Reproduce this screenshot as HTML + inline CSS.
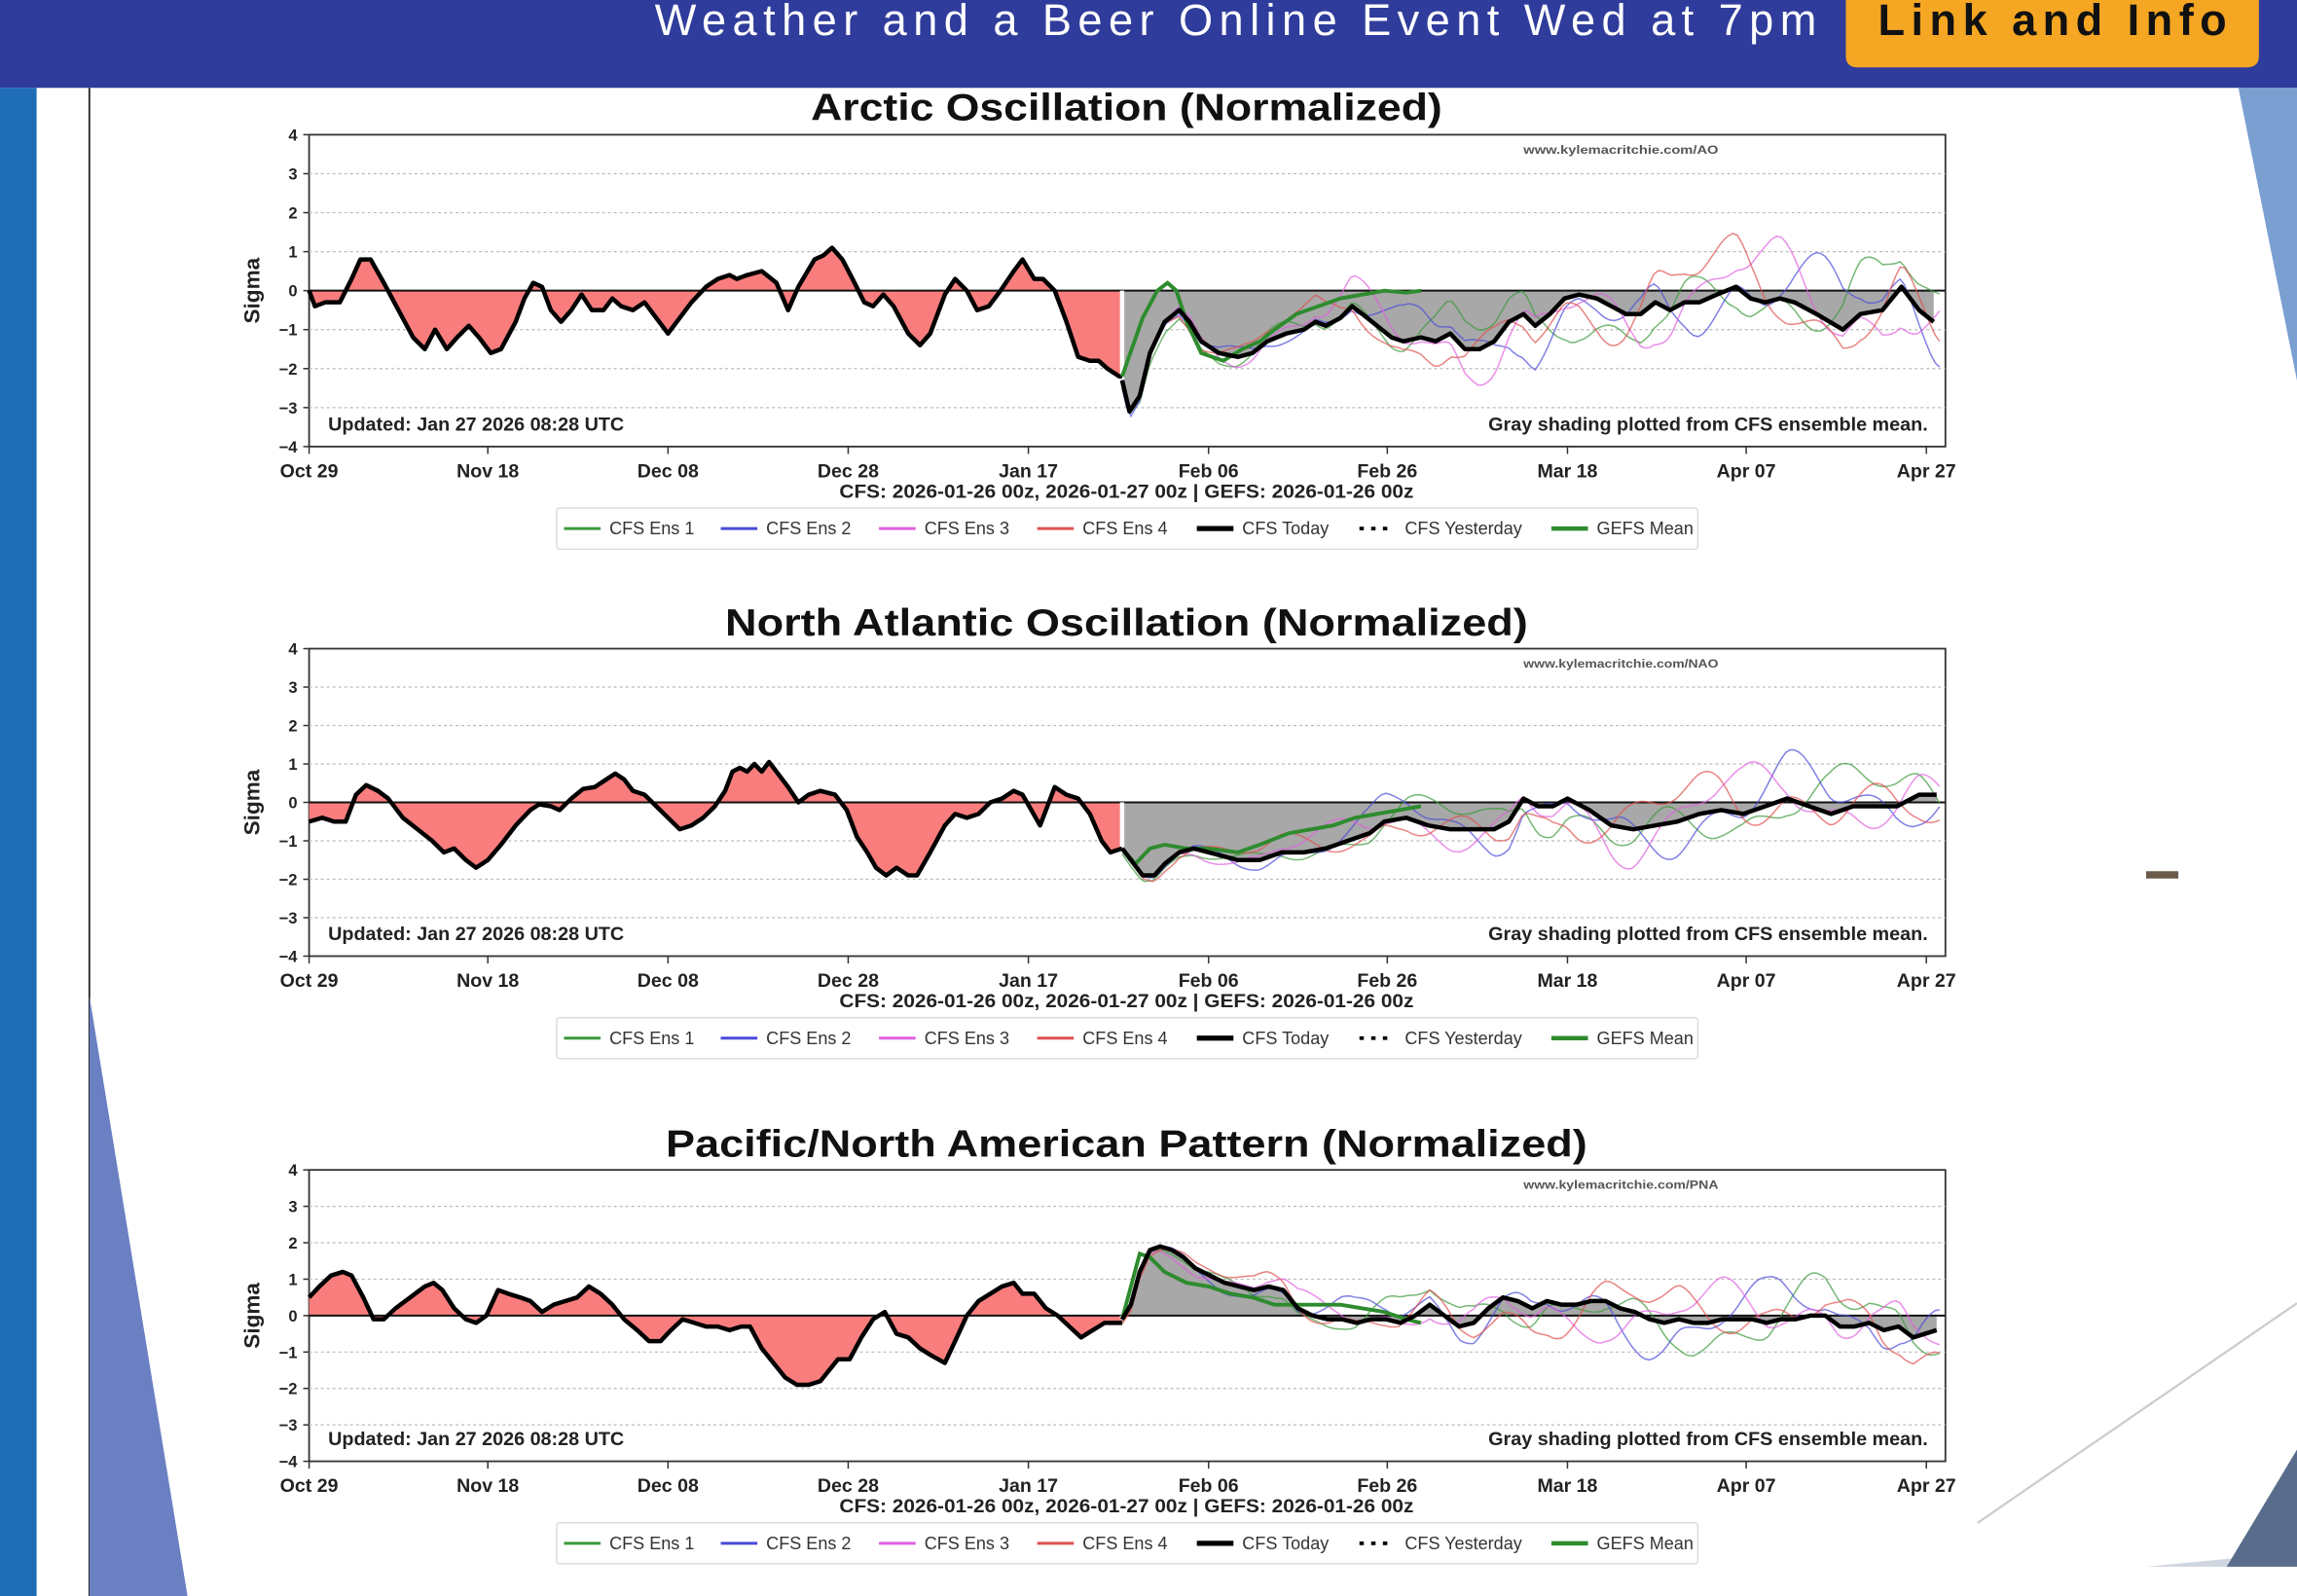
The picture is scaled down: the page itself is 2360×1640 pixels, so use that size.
<!DOCTYPE html>
<html><head><meta charset="utf-8"><style>
html,body{margin:0;padding:0;background:#fff;overflow:hidden}
svg{display:block}
text{font-family:"Liberation Sans","DejaVu Sans",sans-serif}
</style></head><body>
<svg id="s" width="2360" height="1640" viewBox="0 0 1568 1090" preserveAspectRatio="none" xmlns="http://www.w3.org/2000/svg">
<rect width="1568" height="1090" fill="#fff"/>
<rect x="0" y="0" width="1568" height="60" fill="#2f3c9b"/>
<text x="447" y="24" font-size="30" fill="#fff" textLength="793" lengthAdjust="spacing">Weather and a Beer Online Event Wed at 7pm</text>
<path d="M1260 0H1542V38Q1542 46 1534 46H1268Q1260 46 1260 38Z" fill="#f5a623"/>
<text x="1282" y="24" font-size="30" font-weight="bold" fill="#111" textLength="238" lengthAdjust="spacing">Link and Info</text>
<rect x="0" y="60" width="25" height="1030" fill="#1f6db6"/>
<line x1="61" y1="60" x2="61" y2="1090" stroke="#222" stroke-width="1.2"/>
<path d="M61 680L128 1090H61Z" fill="#6a80c2"/>
<path d="M1528 60H1568V260Z" fill="#7a9fd0"/>
<path d="M1350 1040L1568 890" stroke="#ccc" stroke-width="1.5"/>
<path d="M1465 1070H1568V1060Z" fill="#cfd6e0"/>
<path d="M1520 1070L1568 990V1070Z" fill="#5a6c8c"/>
<rect x="1465" y="595" width="22" height="5" fill="#6a5a4a"/>
<g id="charts"></g>
</svg>
<script>
const NS="http://www.w3.org/2000/svg";
const G=document.getElementById('charts');
function el(t,a,txt){const e=document.createElementNS(NS,t);for(const k in a)e.setAttribute(k,a[k]);if(txt!==undefined)e.textContent=txt;G.appendChild(e);return e;}
function P(s){const a=s.split(',').map(p=>p.trim().split(':').map(Number));return a;}
function interp(pts,x){if(x<=pts[0][0])return pts[0][1];for(let i=1;i<pts.length;i++){if(x<=pts[i][0]){const [x0,y0]=pts[i-1],[x1,y1]=pts[i];return y0+(y1-y0)*(x-x0)/(x1-x0);}}return pts[pts.length-1][1];}
const charts=[
{title:"Arctic Oscillation (Normalized)",tw:431,top:92,bot:305,ty:73,wm:"www.kylemacritchie.com/AO",
obs:P("211:0,215:-0.4,222:-0.3,232:-0.3,240:0.3,246:0.8,253:0.8,262:0.2,272:-0.5,282:-1.2,290:-1.5,297:-1.0,305:-1.5,312:-1.2,320:-0.9,327:-1.2,335:-1.6,342:-1.5,352:-0.8,358:-0.2,364:0.2,370:0.1,376:-0.5,383:-0.8,390:-0.5,397:-0.1,404:-0.5,412:-0.5,418:-0.2,424:-0.4,432:-0.5,440:-0.3,450:-0.8,456:-1.1,464:-0.7,472:-0.3,482:0.1,490:0.3,498:0.4,503:0.3,510:0.4,520:0.5,530:0.2,538:-0.5,545:0.1,556:0.8,562:0.9,568:1.1,575:0.8,582:0.3,590:-0.3,596:-0.4,603:-0.1,610:-0.4,620:-1.1,628:-1.4,635:-1.1,645:-0.1,652:0.3,660:0.0,667:-0.5,675:-0.4,683:0.0,692:0.5,698:0.8,706:0.3,712:0.3,720:0.0,728:-0.8,736:-1.7,744:-1.8,750:-1.8,756:-2.0,764:-2.2,766:-2.2"),
today:P("766:-2.3,771:-3.1,778:-2.7,785:-1.6,795:-0.8,805:-0.5,812:-0.8,820:-1.3,832:-1.6,845:-1.7,855:-1.6,865:-1.3,878:-1.1,890:-1.0,898:-0.8,905:-0.9,915:-0.7,923:-0.4,930:-0.6,940:-0.9,950:-1.2,958:-1.3,970:-1.2,980:-1.3,990:-1.1,1000:-1.5,1010:-1.5,1020:-1.3,1030:-0.8,1040:-0.6,1048:-0.9,1058:-0.6,1068:-0.2,1078:-0.1,1090:-0.2,1100:-0.4,1110:-0.6,1120:-0.6,1130:-0.3,1140:-0.5,1150:-0.3,1160:-0.3,1172:-0.1,1185:0.1,1195:-0.2,1205:-0.3,1215:-0.2,1225:-0.3,1240:-0.6,1258:-1.0,1270:-0.6,1285:-0.5,1298:0.1,1310:-0.5,1320:-0.8"),
gefs:P("766:-2.2,780:-0.7,790:0.0,797:0.2,803:0.0,810:-0.8,820:-1.6,835:-1.8,848:-1.5,860:-1.3,870:-1.0,885:-0.6,900:-0.4,915:-0.2,930:-0.1,945:0.0,960:-0.05,970:0.0"),
amp:1.1},
{title:"North Atlantic Oscillation (Normalized)",tw:548,top:443,bot:653,ty:425,wm:"www.kylemacritchie.com/NAO",
obs:P("211:-0.5,220:-0.4,228:-0.5,236:-0.5,243:0.2,250:0.45,258:0.3,265:0.1,275:-0.4,285:-0.7,295:-1.0,303:-1.3,310:-1.2,318:-1.5,325:-1.7,333:-1.5,342:-1.1,352:-0.6,362:-0.2,368:-0.05,376:-0.1,382:-0.2,390:0.1,398:0.35,406:0.4,414:0.6,420:0.75,426:0.6,432:0.3,440:0.2,448:-0.1,456:-0.4,464:-0.7,472:-0.6,480:-0.4,488:-0.1,495:0.3,500:0.8,505:0.9,510:0.8,515:1.0,520:0.8,525:1.05,532:0.7,538:0.4,545:0.0,552:0.2,560:0.3,570:0.2,578:-0.2,585:-0.9,592:-1.3,598:-1.7,605:-1.9,612:-1.7,620:-1.9,626:-1.9,635:-1.3,645:-0.6,652:-0.3,660:-0.4,668:-0.3,676:0.0,684:0.1,692:0.3,698:0.2,704:-0.2,710:-0.6,716:0.0,720:0.4,728:0.2,736:0.1,744:-0.3,752:-1.0,758:-1.3,766:-1.2"),
today:P("766:-1.2,772:-1.5,780:-1.9,788:-1.9,795:-1.6,805:-1.3,815:-1.2,825:-1.3,835:-1.4,845:-1.5,860:-1.5,875:-1.3,890:-1.3,905:-1.2,920:-1.0,935:-0.8,945:-0.5,960:-0.4,975:-0.6,990:-0.7,1005:-0.7,1020:-0.7,1030:-0.5,1040:0.1,1050:-0.1,1060:-0.1,1070:0.1,1085:-0.2,1100:-0.6,1115:-0.7,1130:-0.6,1145:-0.5,1160:-0.3,1175:-0.2,1190:-0.3,1205:-0.1,1220:0.1,1235:-0.1,1250:-0.3,1265:-0.1,1280:-0.1,1295:-0.1,1310:0.2,1322:0.2"),
gefs:P("766:-1.2,775:-1.6,785:-1.2,795:-1.1,810:-1.2,825:-1.2,845:-1.3,860:-1.1,880:-0.8,895:-0.7,910:-0.6,925:-0.4,940:-0.3,955:-0.2,970:-0.1"),
amp:0.9},
{title:"Pacific/North American Pattern (Normalized)",tw:629,top:799,bot:998,ty:781,wm:"www.kylemacritchie.com/PNA",
obs:P("211:0.5,218:0.8,226:1.1,234:1.2,240:1.1,248:0.5,255:-0.1,262:-0.1,270:0.2,280:0.5,290:0.8,296:0.9,302:0.7,310:0.2,318:-0.1,325:-0.2,332:0.0,340:0.7,347:0.6,355:0.5,362:0.4,370:0.1,378:0.3,386:0.4,394:0.5,402:0.8,410:0.6,418:0.3,426:-0.1,435:-0.4,443:-0.7,451:-0.7,458:-0.4,466:-0.1,474:-0.2,482:-0.3,490:-0.3,498:-0.4,506:-0.3,512:-0.3,520:-0.9,528:-1.3,536:-1.7,544:-1.9,552:-1.9,560:-1.8,566:-1.5,572:-1.2,580:-1.2,588:-0.6,596:-0.1,604:0.1,612:-0.5,620:-0.6,628:-0.9,636:-1.1,645:-1.3,652:-0.7,660:0.0,668:0.4,676:0.6,684:0.8,692:0.9,698:0.6,706:0.6,714:0.2,722:0.0,730:-0.3,738:-0.6,746:-0.4,754:-0.2,760:-0.2,766:-0.2"),
today:P("766:-0.1,772:0.3,778:1.2,785:1.8,792:1.9,800:1.8,808:1.6,816:1.3,826:1.1,836:0.9,846:0.8,856:0.7,866:0.8,876:0.7,886:0.2,896:0.0,906:-0.1,916:-0.1,926:-0.2,936:-0.1,946:-0.1,956:-0.2,966:0.0,976:0.3,986:0.0,996:-0.3,1006:-0.2,1016:0.2,1026:0.5,1036:0.4,1046:0.2,1056:0.4,1066:0.3,1076:0.3,1086:0.4,1096:0.4,1106:0.2,1116:0.1,1126:-0.1,1136:-0.2,1146:-0.1,1156:-0.2,1166:-0.2,1176:-0.1,1186:-0.1,1196:-0.1,1206:-0.2,1216:-0.1,1226:-0.1,1236:0.0,1246:0.0,1256:-0.3,1266:-0.3,1276:-0.2,1286:-0.4,1296:-0.3,1306:-0.6,1314:-0.5,1322:-0.4"),
gefs:P("766:-0.1,772:0.8,778:1.7,785:1.6,795:1.2,810:0.9,825:0.8,840:0.6,855:0.5,870:0.3,885:0.3,900:0.3,915:0.3,930:0.2,945:0.1,960:-0.1,970:-0.2"),
amp:0.9}
];
const X0=211,X1=1328;
const ticks=[["Oct 29",211],["Nov 18",333],["Dec 08",456],["Dec 28",579],["Jan 17",702],["Feb 06",825],["Feb 26",947],["Mar 18",1070],["Apr 07",1192],["Apr 27",1315]];
const ensCol=["#3a9a3a","#4b4bd8","#e060e0","#e05050"];
charts.forEach((c,ci)=>{
 const u=(c.bot-c.top)/8, Y=v=>c.top+(4-v)*u, z=Y(0);
 el('rect',{x:X0,y:c.top,width:X1-X0,height:c.bot-c.top,fill:'#fff',stroke:'#333','stroke-width':1.2});
 for(let v=-3;v<=3;v++){if(v)el('line',{x1:X0,x2:X1,y1:Y(v),y2:Y(v),stroke:'#bbb','stroke-width':0.8,'stroke-dasharray':'2,2'});}
 for(let v=-4;v<=4;v++){el('line',{x1:X0-4,x2:X0,y1:Y(v),y2:Y(v),stroke:'#333'});el('text',{x:X0-8,y:Y(v)+4,'text-anchor':'end','font-size':11,'font-weight':'bold',fill:'#222'},String(v).replace('-','\u2212'));}
 el('text',{x:0,y:0,transform:`translate(177 ${z}) rotate(-90)`,'text-anchor':'middle','font-size':15,'font-weight':'bold',fill:'#222'},'Sigma');
 let d=`M${c.obs[0][0]} ${z}`;c.obs.forEach(p=>d+=`L${p[0]} ${Y(p[1])}`);d+=`L${c.obs[c.obs.length-1][0]} ${z}Z`;
 el('path',{d,fill:'#fa7d7d'});
 d=`M${c.today[0][0]} ${z}`;c.today.forEach(p=>d+=`L${p[0]} ${Y(p[1])}`);d+=`L${c.today[c.today.length-1][0]} ${z}Z`;
 el('path',{d,fill:'#a8a8a8'});
 el('line',{x1:X0,x2:X1,y1:z,y2:z,stroke:'#111','stroke-width':1.3});
 el('line',{x1:766,x2:766,y1:z,y2:Y(interp(c.today,766)),stroke:'#fff','stroke-width':3});
 for(let k=0;k<4;k++){let pd='';for(let x=766;x<=1324;x+=3){const t=(x-766)/558;const a=c.amp*(0.15+0.85*Math.min(1,t*1.6));
  const n=Math.sin(x*0.045+k*1.9+ci)*0.6+Math.sin(x*0.11+k*3.1+ci*2)*0.4+Math.sin(x*0.021+k*0.7)*0.5;
  const v=Math.max(-3.5,Math.min(3.5,interp(c.today,x)+a*n));pd+=(pd?'L':'M')+x+' '+Y(v).toFixed(1);}
  el('path',{d:pd,fill:'none',stroke:ensCol[k],'stroke-width':1,opacity:0.7});}
 let ld='';c.obs.forEach(p=>ld+=(ld?'L':'M')+p[0]+' '+Y(p[1]));el('path',{d:ld,fill:'none',stroke:'#000','stroke-width':3,'stroke-linejoin':'round'});
 ld='';c.gefs.forEach(p=>ld+=(ld?'L':'M')+p[0]+' '+Y(p[1]));el('path',{d:ld,fill:'none',stroke:'#2e8b2e','stroke-width':2.6});
 ld='';c.today.forEach(p=>ld+=(ld?'L':'M')+p[0]+' '+Y(p[1]));el('path',{d:ld,fill:'none',stroke:'#000','stroke-width':3,'stroke-linejoin':'round'});
 el('text',{x:769-c.tw/2,y:c.ty+9,'font-size':26,'font-weight':'bold',fill:'#111',textLength:c.tw,lengthAdjust:'spacingAndGlyphs'},c.title);
 el('text',{x:1040,y:c.top+13,'font-size':8,'font-weight':'bold',fill:'#555',textLength:133,lengthAdjust:'spacingAndGlyphs'},c.wm);
 el('text',{x:224,y:c.bot-11,'font-size':13,'font-weight':'bold',fill:'#222',textLength:202,lengthAdjust:'spacingAndGlyphs'},'Updated: Jan 27 2026 08:28 UTC');
 el('text',{x:1016,y:c.bot-11,'font-size':13,'font-weight':'bold',fill:'#222',textLength:300,lengthAdjust:'spacingAndGlyphs'},'Gray shading plotted from CFS ensemble mean.');
 ticks.forEach(t=>{el('line',{x1:t[1],x2:t[1],y1:c.bot,y2:c.bot+5,stroke:'#333'});el('text',{x:t[1],y:c.bot+21,'text-anchor':'middle','font-size':13,'font-weight':'bold',fill:'#222'},t[0]);});
 el('text',{x:573,y:c.bot+35,'font-size':13,'font-weight':'bold',fill:'#222',textLength:392,lengthAdjust:'spacingAndGlyphs'},'CFS: 2026-01-26 00z, 2026-01-27 00z  |  GEFS: 2026-01-26 00z');
 const ly=c.bot+56;
 el('rect',{x:380,y:ly-14,width:779,height:28,fill:'#fff',stroke:'#ddd','stroke-width':1,rx:2});
 const items=[["CFS Ens 1","#3a9a3a",385,2],["CFS Ens 2","#4b4bd8",492,2],["CFS Ens 3","#e060e0",600,2],["CFS Ens 4","#e05050",708,2],["CFS Today","#000",817,3.5],["CFS Yesterday","#000",928,0],["GEFS Mean","#2e8b2e",1059,3]];
 items.forEach(it=>{if(it[3])el('line',{x1:it[2],x2:it[2]+25,y1:ly,y2:ly,stroke:it[1],'stroke-width':it[3]});else el('line',{x1:it[2],x2:it[2]+20,y1:ly,y2:ly,stroke:'#000','stroke-width':2.5,'stroke-dasharray':'3,5'});
  el('text',{x:it[2]+31,y:ly+4,'font-size':12,fill:'#333'},it[0]);});
});
</script>
</body></html>
